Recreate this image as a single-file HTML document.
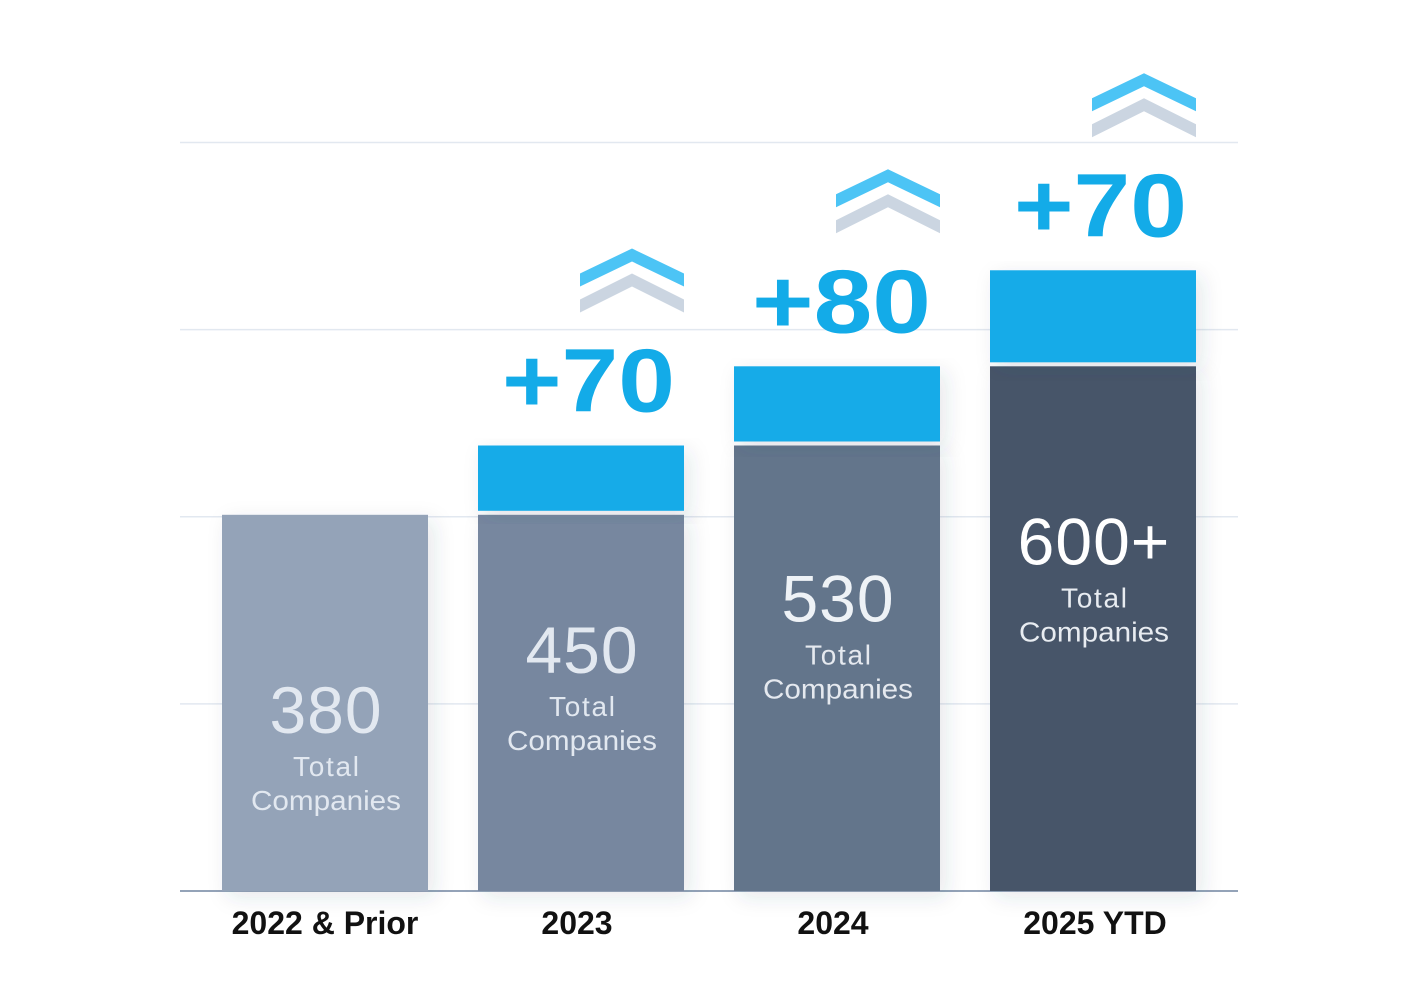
<!DOCTYPE html>
<html><head><meta charset="utf-8"><style>
html,body{margin:0;padding:0;background:#fff}
svg{display:block;font-family:"Liberation Sans",sans-serif}
</style></head><body>
<svg id="chart" width="1402" height="990" viewBox="0 0 1402 990" xmlns="http://www.w3.org/2000/svg">
<defs>
<filter id="sh" x="-20%" y="-10%" width="140%" height="130%"><feDropShadow dx="6" dy="6" stdDeviation="10" flood-color="#334155" flood-opacity="0.12"/></filter>
</defs>
</svg>
<script>
const categories = ["2022 & Prior","2023","2024","2025 YTD"];
const baseValues = [380,380,450,530];
const totalValues = [380,450,530,627];
const totalLabels = ["380","450","530","600+"];
const increaseLabels = ["","+70","+80","+70"];
const gridValues = [0,189,378,567,756];

const NS="http://www.w3.org/2000/svg";
const svg=document.getElementById('chart');
const y0=891, k=0.99;
const y=v=>y0-v*k;
const barX=i=>222+i*256, bw=206;
const colors=["#94a3b8","#77879f","#64748b","#475569"];
const numColors=["#e2e8f0","#e2e8f0","#eef2f6","#ffffff"];
const subColors=["#e2e8f0","#e2e8f0","#e5e9ef","#e8ecf1"];
const labelOffset=[218,158,176,198];
const xLabelShift=[0,-4,-4,2];
function el(t,a,p){const e=document.createElementNS(NS,t);for(const k in a)e.setAttribute(k,a[k]);(p||svg).appendChild(e);return e;}

gridValues.forEach((g,i)=>{
  const l=el('line',{x1:180,x2:1238,y1:y(g),y2:y(g),stroke:i===0?'#94a3b8':'#e2e8f0','stroke-width':i===0?2:1.5});
  
  
});

categories.forEach((c,i)=>{
  const x=barX(i);
  const top=y(baseValues[i]);
  const b=el('rect',{x:x,y:top,width:bw,height:y0-top,fill:colors[i],filter:'url(#sh)'});
  
  
  if(totalValues[i]>baseValues[i]){
    const tt=y(totalValues[i]);
    const inc=el('rect',{x:x,y:tt,width:bw,height:top-tt-4,fill:'#13abe8',filter:'url(#sh)'});
    
    
    const t=el('text',{x:x+bw-9,y:tt-34,'text-anchor':'end','font-size':90,'font-weight':'bold',fill:'#13abe8',textLength:increaseLabels[i]==="+80"?179:173,lengthAdjust:'spacingAndGlyphs'});
    t.textContent=increaseLabels[i];
    
    
    const ay=tt-197, cx=x+bw-52;
    const ch=el('g',{});
    
    
    el('path',{d:`M${cx-52} ${ay+38} L${cx} ${ay+13} L${cx+52} ${ay+38} L${cx+52} ${ay+25} L${cx} ${ay} L${cx-52} ${ay+25}Z`,fill:'#4cc4f5'},ch);
    el('path',{d:`M${cx-52} ${ay+64} L${cx} ${ay+38} L${cx+52} ${ay+64} L${cx+52} ${ay+51} L${cx} ${ay+25} L${cx-52} ${ay+51}Z`,fill:'#cbd5e1'},ch);
  }
  const ly=top+labelOffset[i], cx=x+bw/2+1;
  const n=el('text',{x:cx,y:ly,'text-anchor':'middle','font-size':66,fill:numColors[i],'letter-spacing':1});
  n.textContent=totalLabels[i];
  
  
  const s1=el('text',{x:cx,y:ly+43,'text-anchor':'middle','font-size':28,fill:subColors[i],textLength:66});
  s1.textContent="Total";
  
  
  const s2=el('text',{x:cx,y:ly+77,'text-anchor':'middle','font-size':28,fill:subColors[i],textLength:150,lengthAdjust:'spacingAndGlyphs'});
  s2.textContent="Companies";
  
  
  const xl=el('text',{x:x+bw/2+xLabelShift[i],y:934,'text-anchor':'middle','font-size':32,'font-weight':'bold',fill:'#111'});
  xl.textContent=c;
  
  
});
</script>
</body></html>
